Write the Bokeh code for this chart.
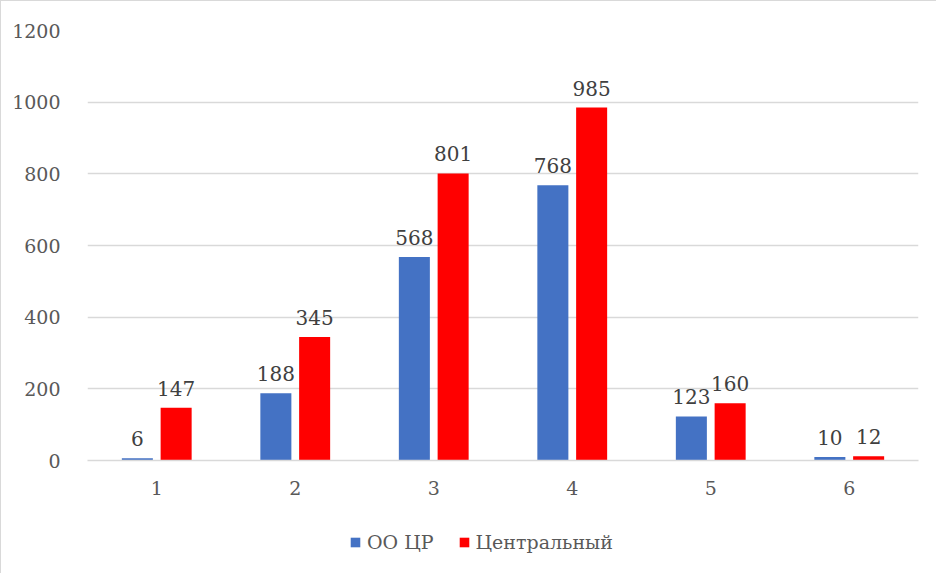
from bokeh.plotting import figure
from bokeh.models import ColumnDataSource, FactorRange, Range1d, Legend, LegendItem, LabelSet
from bokeh.core.properties import value
from bokeh.layouts import column
from bokeh.transform import dodge
from bokeh.embed import file_html
from bokeh.resources import INLINE

categories = ["1", "2", "3", "4", "5", "6"]
oo_cr = [6, 188, 568, 768, 123, 10]
central = [147, 345, 801, 985, 160, 12]
y_ticks = [0, 200, 400, 600, 800, 1000, 1200]
series_names = ["ОО ЦР", "Центральный"]
series_colors = ["#4472C4", "#FF0000"]

FONT = "DejaVu Serif"
src = ColumnDataSource(dict(
    cat=categories, a=oo_cr, b=central,
    a_lbl=[str(v) for v in oo_cr], b_lbl=[str(v) for v in central],
))

W = 935
p = figure(width=W, height=510, x_range=FactorRange(*categories),
           y_range=Range1d(0, 1200), output_backend="svg", toolbar_location=None,
           min_border_left=86, min_border_right=18, min_border_top=29, min_border_bottom=51)
p.outline_line_color = None
p.x_range.range_padding = 0
p.x_range.group_padding = 0
p.x_range.factor_padding = 0

p.vbar(x=dodge("cat", -0.14, range=p.x_range), top="a", width=0.224, source=src,
       color=series_colors[0], line_color=None)
p.vbar(x=dodge("cat", 0.14, range=p.x_range), top="b", width=0.224, source=src,
       color=series_colors[1], line_color=None)

for col, off in (("a", -0.14), ("b", 0.14)):
    p.add_layout(LabelSet(x=dodge("cat", off, range=p.x_range), y=col, text=col + "_lbl",
                          source=src, text_align="center", text_baseline="bottom",
                          y_offset=12, text_font=value(FONT), text_font_size="20px",
                          text_color="#404040"))

p.yaxis.ticker = y_ticks
p.yaxis.axis_line_color = None
p.yaxis.major_tick_line_color = None
p.yaxis.minor_tick_line_color = None
p.yaxis.major_label_standoff = 21
p.yaxis.major_label_text_font = FONT
p.yaxis.major_label_text_font_size = "19px"
p.yaxis.major_label_text_color = "#595959"

p.xaxis.axis_line_color = "#d9d9d9"
p.xaxis.axis_line_width = 1.5
p.xaxis.major_tick_line_color = None
p.xaxis.minor_tick_line_color = None
p.xaxis.major_label_standoff = 14
p.xaxis.major_label_text_font = FONT
p.xaxis.major_label_text_font_size = "19px"
p.xaxis.major_label_text_color = "#595959"

p.xgrid.grid_line_color = None
p.ygrid.grid_line_color = "#d9d9d9"
p.ygrid.grid_line_width = 1.3

# legend strip below the chart (helper swatches lie outside its visible range)
lg = figure(width=W, height=62, x_range=Range1d(0, 1), y_range=Range1d(0, 1),
            x_axis_location=None, y_axis_location=None,
            output_backend="svg", toolbar_location=None, min_border=0)
lg.grid.grid_line_color = None
lg.outline_line_color = None
swatch = ColumnDataSource(dict(x=[-1.0], top=[-1.0]))
d0 = lg.vbar(x="x", top="top", width=0.1, source=swatch, color=series_colors[0], line_color=None)
d1 = lg.vbar(x="x", top="top", width=0.1, source=swatch, color=series_colors[1], line_color=None)
legend = Legend(items=[LegendItem(label=series_names[0], renderers=[d0]),
                       LegendItem(label=series_names[1], renderers=[d1])],
                orientation="horizontal", location=(262, 20),
                label_text_font=FONT, label_text_font_size="19px", label_text_color="#595959",
                glyph_width=12, glyph_height=12, label_standoff=6, spacing=24,
                border_line_color=None, background_fill_alpha=0, padding=0, margin=0)
lg.add_layout(legend, "center")

layout = column(p, lg, spacing=0)
layout.styles = {"border-left": "1px solid #d9d9d9", "border-top": "1px solid #d9d9d9"}

open("out.html", "w").write(file_html(layout, INLINE))
